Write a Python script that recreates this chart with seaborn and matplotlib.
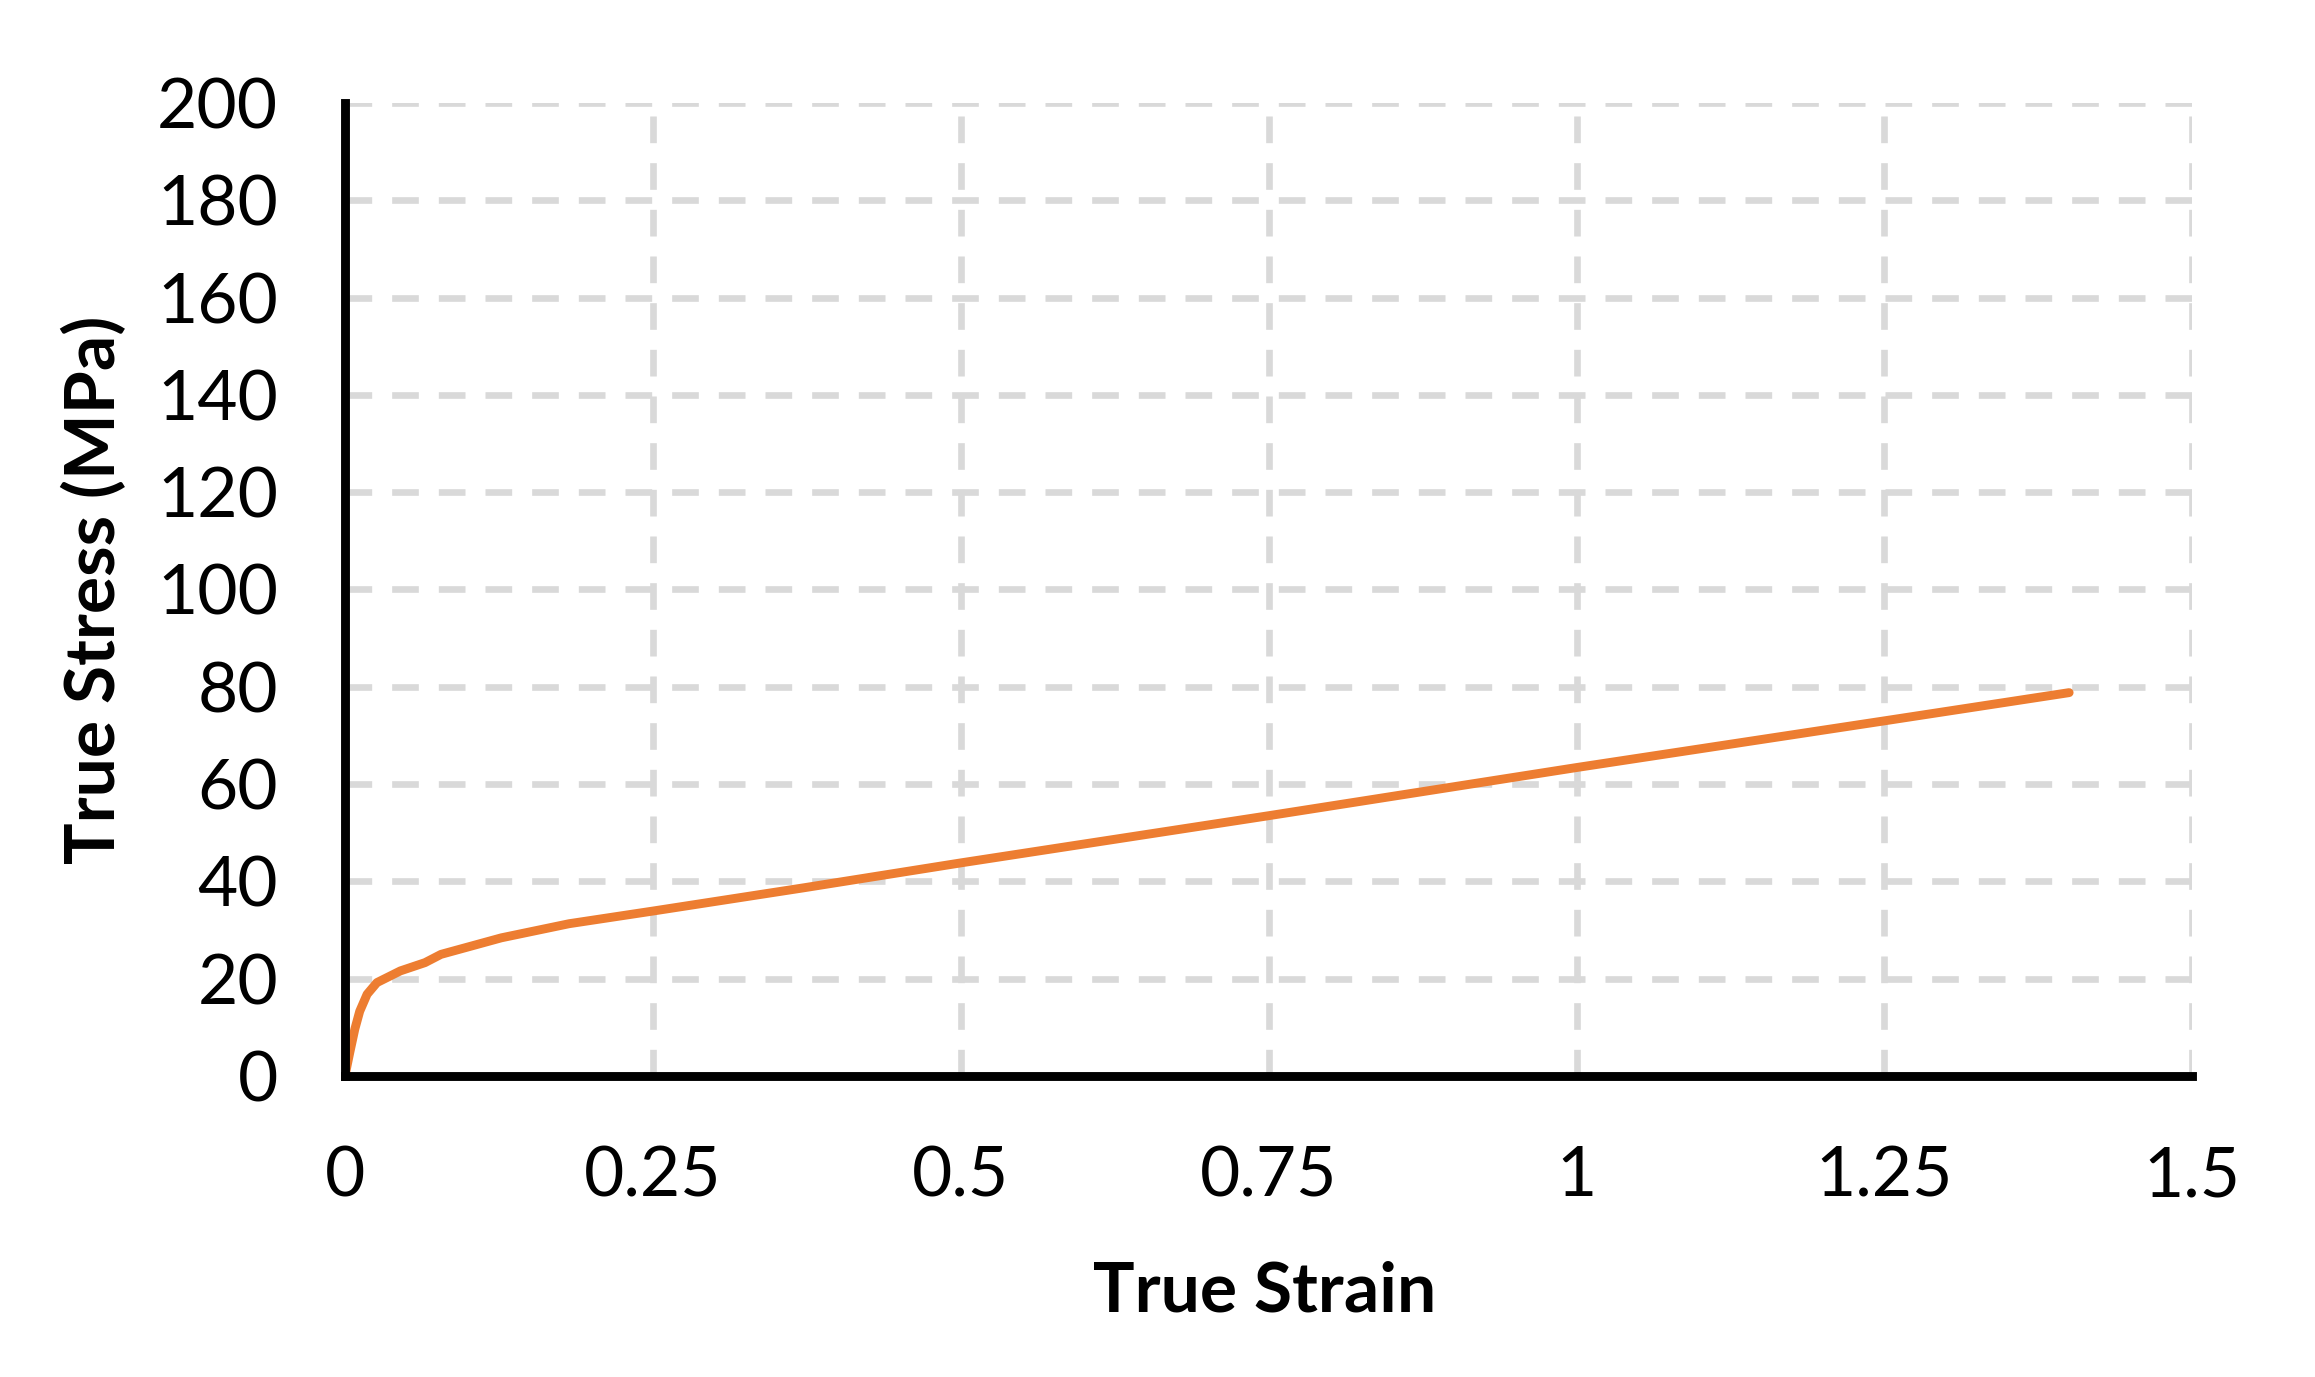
import pandas as pd
import matplotlib.pyplot as plt
import seaborn as sns

# valores
strain = [0.0, 0.004, 0.008, 0.012, 0.018, 0.026, 0.045, 0.065, 0.078, 0.127,
          0.182, 0.25, 0.373, 0.5, 0.75, 1.0, 1.25, 1.40]
stress = [0.0, 4.9, 9.6, 13.3, 16.8, 19.2, 21.6, 23.3, 25.0, 28.4,
          31.3, 33.9, 38.7, 43.8, 53.5, 63.4, 73.0, 78.8]

x_ticks = [0, 0.25, 0.5, 0.75, 1, 1.25, 1.5]
x_tick_labels = ["0", "0.25", "0.5", "0.75", "1", "1.25", "1.5"]
y_ticks = list(range(0, 201, 20))

df = pd.DataFrame({"strain": strain, "stress": stress})

sns.set_style("white")
plt.rcParams['font.family'] = ['Lato', 'DejaVu Sans']
plt.rcParams['text.color'] = 'black'
plt.rcParams['axes.labelcolor'] = 'black'

fig = plt.figure(figsize=(11.575, 6.885), dpi=200)
ax = fig.add_axes([0.149, 0.2186, 0.798, 0.7066])

sns.lineplot(x="strain", y="stress", data=df, color="#ED7D31", linewidth=3.2,
             ax=ax, sort=False)

ax.set_xlim(0, 1.5)
ax.set_ylim(0, 200)
ax.set_xticks(x_ticks)
ax.set_xticklabels(x_tick_labels)
ax.set_yticks(y_ticks)

# grade tracejada clara
ax.grid(True, color="#d9d9d9", linewidth=2.4, linestyle=(0, (4, 3)))
ax.set_axisbelow(True)

for s in ["top", "right"]:
    ax.spines[s].set_visible(False)
for s in ["left", "bottom"]:
    ax.spines[s].set_linewidth(3.2)
    ax.spines[s].set_color("black")
    ax.spines[s].set_zorder(5)

ax.tick_params(axis="both", direction="out", length=7, width=3.2, color="black",
               labelsize=25, labelcolor="black")
ax.tick_params(axis="x", pad=18)
ax.tick_params(axis="y", pad=17)

ax.set_xlabel("True Strain", fontsize=25, fontweight="bold", color="black")
ax.set_ylabel("True Stress (MPa)", fontsize=25, fontweight="bold", color="black")
ax.xaxis.set_label_coords(0.498, -0.19)
ax.yaxis.set_label_coords(-0.118, 0.5)

plt.savefig("out.png", dpi=200, facecolor="white")
